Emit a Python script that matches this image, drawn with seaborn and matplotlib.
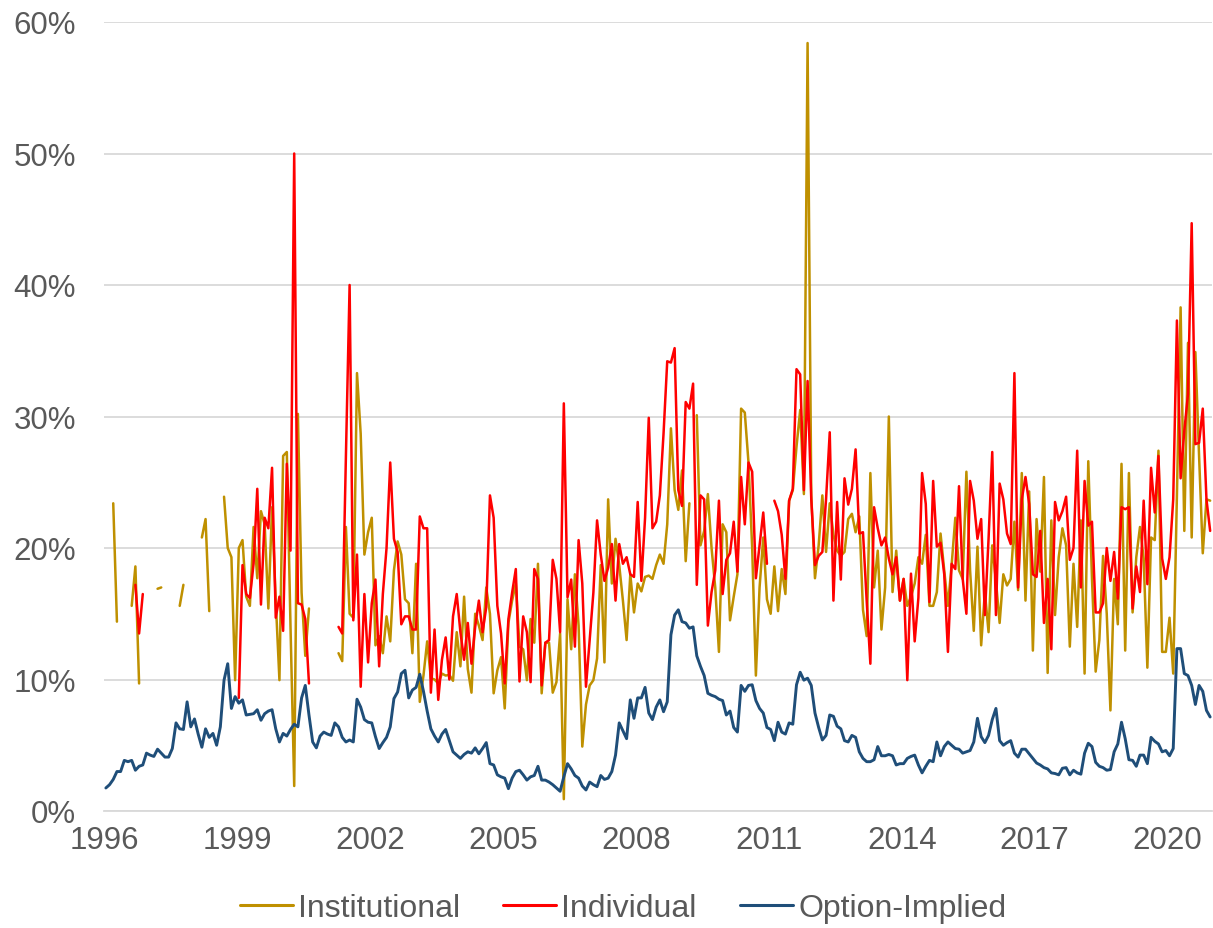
import numpy as np
import pandas as pd
import matplotlib
matplotlib.use("Agg")
import matplotlib.pyplot as plt
import seaborn as sns
from matplotlib.ticker import FuncFormatter
from matplotlib.lines import Line2D

# ---------------- data (monthly, Jan 1996 - Dec 2020, values in %) ----------------
START = "1996-01"
N_MONTHS = 300

option_implied = [
    1.75, 2.0, 2.4, 3.0, 3.0, 3.85, 3.75, 3.85, 3.1, 3.4, 3.5, 4.4, 4.25, 4.15, 4.7, 4.4,
    4.1, 4.1, 4.75, 6.7, 6.25, 6.2, 8.3, 6.4, 7.0, 5.85, 4.85, 6.25, 5.6, 5.9, 5.0, 6.4,
    9.95, 11.2, 7.8, 8.7, 8.2, 8.45, 7.3, 7.35, 7.4, 7.7, 6.9, 7.4, 7.6, 7.7, 6.25,
    5.25, 5.9, 5.7, 6.2, 6.6, 6.4, 8.6, 9.55, 7.3, 5.25, 4.8, 5.7, 6.0, 5.85, 5.75, 6.7,
    6.4, 5.6, 5.25, 5.4, 5.25, 8.5, 7.9, 6.95, 6.75, 6.7, 5.65, 4.75, 5.2, 5.6, 6.4, 8.55,
    9.05, 10.45, 10.7, 8.6, 9.2, 9.4, 10.4, 9.1, 7.6, 6.25, 5.7, 5.25, 5.85, 6.2, 5.35,
    4.5, 4.25, 4.0,
    4.3, 4.5, 4.4, 4.8, 4.35, 4.75, 5.2, 3.6, 3.5, 2.75, 2.6, 2.5, 1.7, 2.5, 3.0, 3.1,
    2.75, 2.35, 2.6, 2.7, 3.4, 2.35, 2.35, 2.2, 2.0, 1.75, 1.5, 2.6, 3.6, 3.2, 2.7, 2.5,
    1.9, 1.6, 2.2, 2.0, 1.85, 2.7, 2.4, 2.5, 3.0, 4.25, 6.7, 6.1, 5.5, 8.45, 7.05, 8.6,
    8.6, 9.4, 7.45,
    6.95, 7.9, 8.45, 7.55, 8.3, 13.4, 14.9, 15.3, 14.4, 14.3, 13.9, 14.0, 11.8, 11.0, 10.3,
    8.95, 8.8, 8.7, 8.5, 8.4, 7.3, 7.6, 6.35, 6.0, 9.55, 9.1, 9.55, 9.6, 8.4, 7.8, 7.45,
    6.35, 6.2, 5.35, 6.75, 6.0, 5.85, 6.7, 6.6, 9.6, 10.55, 9.95, 10.1, 9.55, 7.45, 6.35,
    5.4, 5.75, 7.3,
    7.2, 6.45, 6.25, 5.35, 5.25, 5.75, 5.6, 4.5, 4.0, 3.75, 3.75, 3.9, 4.9, 4.2, 4.2, 4.3,
    4.2, 3.5, 3.6, 3.6, 4.0, 4.15, 4.25, 3.5, 2.9, 3.4, 3.85, 3.75, 5.25, 4.2, 4.9, 5.25,
    5.0, 4.75, 4.7, 4.4, 4.5, 4.6, 5.25, 7.05, 5.65, 5.2, 5.75, 6.95, 7.8, 5.35, 5.0, 5.2,
    5.35,
    4.4, 4.1, 4.7, 4.7, 4.35, 4.0, 3.65, 3.5, 3.3, 3.2, 2.9, 2.85, 2.75, 3.25, 3.3, 2.75,
    3.1, 2.9, 2.8, 4.4, 5.15, 4.9, 3.7, 3.4, 3.3, 3.1, 3.15, 4.5, 5.1, 6.75, 5.5, 3.9,
    3.85, 3.4, 4.25, 4.25, 3.6, 5.6, 5.3, 5.1, 4.5, 4.6, 4.2, 4.75, 12.35, 12.35, 10.45,
    10.3, 9.55, 8.1, 9.55, 9.1, 7.65, 7.15,
]

# segments: first month -> consecutive monthly values (gaps in between = no data)
individual_segments = {
    "1996-09": [17.2, 13.5, 16.5],
    "1999-01": [8.6, 18.7, 16.5, 16.2, 18.8, 24.5, 15.7, 22.3, 21.5, 26.1, 14.7, 16.3,
                13.7, 26.4, 19.8, 50.0, 15.8, 15.7, 14.6, 9.7],
    "2001-04": [14.0, 13.5, 27.0, 40.0, 14.5, 19.5, 9.45, 16.5, 11.3, 15.8, 17.6, 11.0,
                16.5, 20.0, 26.5, 20.7, 19.7, 14.2, 14.8, 14.8, 13.8, 13.8, 22.4, 21.5,
                21.5, 9.0, 13.8, 8.45, 11.5, 13.2, 10.0, 14.8, 16.5, 13.6, 11.5, 14.3,
                11.2, 14.0, 16.0, 13.6, 15.5, 24.0, 22.3, 15.6, 13.5, 9.7, 14.6, 16.6,
                18.4, 9.85, 14.8, 13.6, 9.8, 18.4, 17.65, 9.55, 12.8, 13.0, 19.1, 17.65,
                13.6, 31.0, 16.25, 17.6, 12.5, 20.6, 17.3, 9.45, 13.0, 16.6, 22.1, 19.5,
                17.5, 18.5, 20.3, 16.0, 20.3, 18.8, 19.3, 18.0, 17.8, 23.5, 17.5, 22.3,
                29.9, 21.5, 22.0, 24.0, 28.7, 34.2, 34.1, 35.2, 24.4, 23.2, 31.1, 30.6,
                32.5, 17.2, 24.0, 23.7, 14.1, 16.65, 18.3, 23.6, 16.5, 19.1, 19.6, 22.0,
                18.2, 25.4, 21.8, 26.5, 25.8, 17.7, 20.2, 22.7, 18.8],
    "2011-02": [23.6, 22.8, 21.0, 17.65, 23.6, 24.5, 33.6, 33.2, 24.4, 32.7, 23.7, 18.7,
                19.4, 19.7, 23.7, 28.8,
                16.0, 23.5, 17.6, 25.3, 23.3, 24.5, 27.5, 21.1, 21.2, 16.0, 11.2, 23.1,
                21.5, 20.2, 20.8, 19.2, 18.0, 19.3, 16.0, 17.65, 9.95, 18.05, 12.9, 16.2,
                25.7, 23.35, 15.9, 25.1, 20.1, 20.4, 18.0, 12.1, 18.8, 18.4, 24.7, 17.65,
                15.0, 25.1, 23.6, 20.7, 22.2, 14.9, 20.7, 27.3, 14.9, 24.9, 23.7, 21.1,
                20.3,
                33.3, 17.0, 23.7, 25.4, 23.35, 18.0, 17.8, 21.3, 14.3, 17.65, 12.3, 23.5,
                22.1, 22.8, 23.9, 19.1, 20.0, 27.4, 17.0, 25.1, 21.7, 22.0, 15.1, 15.1,
                15.8, 20.0, 17.5, 19.7, 16.15, 23.1, 22.95, 23.1, 15.4, 18.6, 16.65, 23.6,
                17.25, 26.1, 22.7, 27.0, 19.2, 17.65, 19.3, 23.7, 37.3, 25.3, 28.9, 31.7,
                44.7, 27.9, 28.0, 30.6, 23.7, 21.3],
}

institutional_segments = {
    "1996-03": [23.4, 14.4],
    "1996-08": [15.6, 18.6, 9.7],
    "1997-03": [16.9, 17.0],
    "1997-09": [15.6, 17.2],
    "1998-03": [20.8, 22.2, 15.2],
    "1998-09": [23.9, 20.0, 19.3, 9.95, 20.0, 20.6, 16.3, 15.6, 21.6, 17.7, 22.8, 21.8,
                15.4, 23.1, 16.0, 9.95, 27.0, 27.3, 14.0, 1.9, 30.2, 16.6, 11.8, 15.4],
    "2001-04": [12.0, 11.4, 21.6, 15.0, 14.7, 33.3, 28.7, 19.5, 21.2, 22.3, 12.6, 13.3,
                12.0, 14.8, 12.9, 18.3, 20.5, 19.5, 16.1, 15.8, 12.0, 18.8, 8.3, 10.3,
                12.9, 10.1, 10.0, 9.7, 10.45, 10.3, 10.35, 9.9, 13.6, 11.0, 16.3, 10.8,
                9.0, 15.0, 14.1, 13.0, 17.0, 15.0, 8.95, 10.7, 11.7, 7.8, 14.3, 16.0,
                17.3, 12.5, 12.3, 9.95, 14.6, 12.8, 18.8, 8.95, 12.8, 12.8, 9.0, 9.8,
                13.5, 0.9, 16.1, 12.3, 18.0, 14.1, 4.9, 8.1, 9.55, 9.95, 11.6, 18.7,
                11.3, 23.7, 17.3, 20.7, 18.7, 16.0, 13.0, 18.0, 15.1, 17.3, 16.7, 17.8,
                17.9, 17.65, 18.7, 19.5, 18.8, 21.8, 29.1, 24.4, 22.9, 25.9, 19.0, 23.4],
    "2009-05": [30.1, 20.2, 21.3, 24.1, 20.0, 17.0, 12.1, 21.8, 21.2, 14.5, 16.3, 18.0,
                30.6, 30.3, 26.5, 20.0, 10.3, 17.0, 20.8, 16.1, 15.0, 18.6, 15.2, 18.4,
                16.5, 23.6, 24.4, 27.7, 30.5, 24.1, 58.4, 24.0, 17.7, 20.2, 24.0, 19.7,
                23.4,
                21.0, 19.8, 19.4, 19.7, 22.2, 22.6, 21.2, 22.4, 15.3, 13.3, 25.7, 17.0,
                19.8, 13.8, 17.0, 30.0, 16.65, 19.8, 16.0, 17.65, 15.6, 16.3, 17.3, 19.3,
                18.8, 21.0, 15.6, 15.6, 16.65, 21.1, 18.3, 15.6, 18.7, 22.3, 18.3, 17.65,
                25.8, 18.3, 13.7, 20.1, 12.6, 16.65, 13.6, 20.2, 17.5, 14.3, 18.0, 17.15,
                17.65,
                22.0, 16.8, 25.7, 16.0, 24.3, 12.2, 22.2, 18.2, 25.4, 10.5, 22.1, 14.9,
                19.3, 21.5, 20.2, 12.5, 18.8, 14.0, 22.1, 10.45, 26.6, 17.65, 10.6, 13.0,
                19.4, 15.0, 7.65, 17.65, 14.2, 26.4, 12.2, 25.7, 15.1, 19.3, 21.6, 19.2,
                10.9, 20.8, 20.6, 27.4, 12.1, 12.1, 14.7, 10.45, 24.0, 38.3, 21.3, 35.6,
                20.8, 34.9, 27.0, 19.6, 23.7, 23.6],
}

series_names = ["Institutional", "Individual", "Option-Implied"]
series_colors = ["#BF9000", "#FF0000", "#1F4E79"]
series_widths = [1.8, 1.8, 2.1]
x_tick_years = [1996, 1999, 2002, 2005, 2008, 2011, 2014, 2017, 2020]
y_ticks = [0, 10, 20, 30, 40, 50, 60]

# ---------------- build long table ----------------
months = pd.period_range(START, periods=N_MONTHS, freq="M")


def from_segments(segments):
    s = pd.Series(np.nan, index=months)
    for start, vals in segments.items():
        i0 = months.get_loc(pd.Period(start, freq="M"))
        s.iloc[i0:i0 + len(vals)] = vals
    return s


wide = pd.DataFrame({
    "Institutional": from_segments(institutional_segments),
    "Individual": from_segments(individual_segments),
    "Option-Implied": pd.Series(option_implied[:N_MONTHS], index=months[:len(option_implied)]),
})
t = months.year + (months.month - 0.5) / 12.0  # mid-month, in decimal years

# ---------------- plot ----------------
sns.set_theme(style="white")
plt.rcParams["font.family"] = ["Liberation Sans", "DejaVu Sans"]
TXT = "#595959"
GRID = "#D9D9D9"

fig = plt.figure(figsize=(12.13, 9.29), dpi=100)
ax = fig.add_axes([104 / 1213, 1 - 812 / 929, (1212 - 104) / 1213, (812 - 23) / 929])

for name, color, lw in zip(series_names, series_colors, series_widths):
    v = wide[name].to_numpy()
    isn = np.isnan(v)
    seg = np.cumsum(np.r_[True, isn[1:] != isn[:-1]])
    d = pd.DataFrame({"t": t, "value": v, "seg": seg})[~isn]
    sns.lineplot(data=d, x="t", y="value", units="seg", estimator=None, sort=True,
                 color=color, linewidth=lw, ax=ax, legend=False, zorder=3)

ax.set_xlim(1996, 2021)
ax.set_ylim(0, 60)
ax.set_xticks(x_tick_years)
ax.set_xticklabels([str(y) for y in x_tick_years])
ax.set_yticks(y_ticks)
ax.yaxis.set_major_formatter(FuncFormatter(lambda v, p: f"{v:.0f}%"))
ax.set_xlabel("")
ax.set_ylabel("")

ax.grid(axis="y", color=GRID, linewidth=1.3, zorder=0)
ax.grid(axis="x", visible=False)
ax.set_axisbelow(True)
for sp in ["top", "right", "left"]:
    ax.spines[sp].set_visible(False)
ax.spines["bottom"].set_color(GRID)
ax.spines["bottom"].set_linewidth(1.3)

ax.tick_params(axis="x", colors=GRID, length=6, width=1.3, pad=4, labelsize=22.5,
               labelcolor=TXT)
ax.tick_params(axis="y", length=0, pad=20, labelsize=22.5, labelcolor=TXT)

handles = [Line2D([], [], color=c, linewidth=2.2) for c in series_colors]
fig.legend(handles, series_names, loc="center", bbox_to_anchor=(623 / 1213, 1 - 909 / 929),
           ncol=3, frameon=False, fontsize=23, labelcolor=TXT, handlelength=1.66,
           handletextpad=0.16, columnspacing=1.35)

fig.savefig("out.png", dpi=100, facecolor="white")
